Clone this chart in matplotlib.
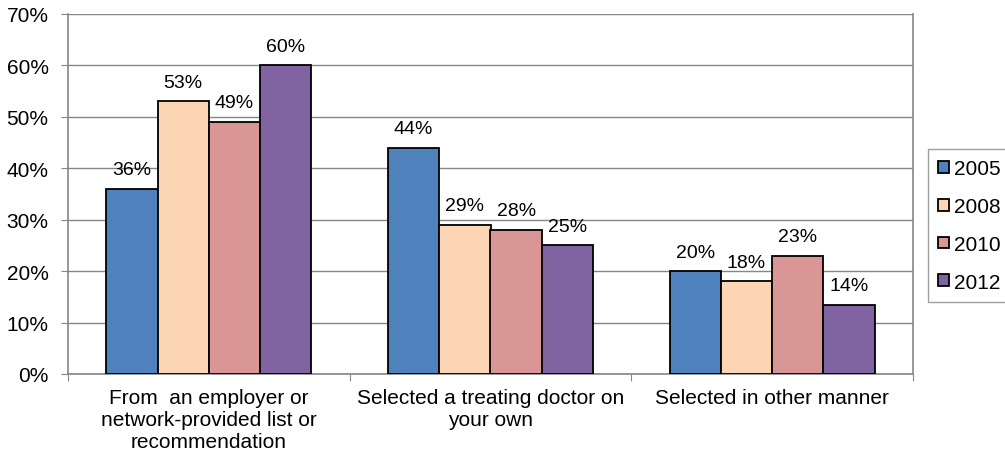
import matplotlib.pyplot as plt
import numpy as np

plt.rcParams['font.family'] = ['Liberation Sans', 'DejaVu Sans']

categories = ['From  an employer or\nnetwork-provided list or\nrecommendation',
              'Selected a treating doctor on\nyour own',
              'Selected in other manner']
years = ['2005', '2008', '2010', '2012']
v2005 = [36, 44, 20]
v2008 = [53, 29, 18]
v2010 = [49, 28, 23]
v2012 = [60, 25, 13.5]
labels2005 = ['36%', '44%', '20%']
labels2008 = ['53%', '29%', '18%']
labels2010 = ['49%', '28%', '23%']
labels2012 = ['60%', '25%', '14%']
colors = ['#4F81BD', '#FCD5B5', '#D99694', '#8064A2']

series = [v2005, v2008, v2010, v2012]
series_labels = [labels2005, labels2008, labels2010, labels2012]

fig = plt.figure(figsize=(10.05, 4.6), dpi=100)
ax = fig.add_axes([68 / 1005, 85 / 460, (913 - 68) / 1005, 360 / 460])

x = np.arange(len(categories))
w = 1 / 5.5
for i, vals in enumerate(series):
    pos = x + (i - 1.5) * w
    bars = ax.bar(pos, vals, w, color=colors[i], edgecolor='black', lw=1.3,
                  label=years[i], zorder=3)
    for b, lab in zip(bars, series_labels[i]):
        ax.annotate(lab, (b.get_x() + b.get_width() / 2, b.get_height()),
                    xytext=(0, 10.5), textcoords='offset points',
                    ha='center', va='baseline', fontsize=14)

ax.set_xlim(-0.5, 2.5)
ax.set_ylim(0, 70)
ax.set_yticks(range(0, 71, 10))
ax.set_yticklabels([f'{t}%' for t in range(0, 71, 10)], fontsize=15)
ax.yaxis.grid(True, color='#868686', lw=1, zorder=0)
ax.set_xticks([-0.5, 0.5, 1.5, 2.5])
ax.set_xticklabels([])
ax.set_xticks(x, minor=True)
ax.set_xticklabels(categories, minor=True, fontsize=15, linespacing=1.22, va='top')
ax.tick_params(axis='x', which='minor', length=0, pad=10)
ax.tick_params(axis='x', which='major', length=5, color='#868686')
ax.tick_params(axis='y', length=5, color='#868686', pad=9)
for s in ['left', 'bottom', 'right']:
    ax.spines[s].set_color('#868686')
    ax.spines[s].set_linewidth(1.2)
ax.spines['top'].set_visible(False)

leg = fig.legend(loc='upper left', bbox_to_anchor=(928 / 1005, 1 - 150 / 460),
                 frameon=True, fancybox=False, edgecolor='#868686', fontsize=15,
                 handlelength=0.5, handleheight=0.5, handletextpad=0.25,
                 labelspacing=0.9, borderpad=0.5, borderaxespad=0)
leg.get_frame().set_linewidth(1)

fig.savefig('out.png', dpi=100)
